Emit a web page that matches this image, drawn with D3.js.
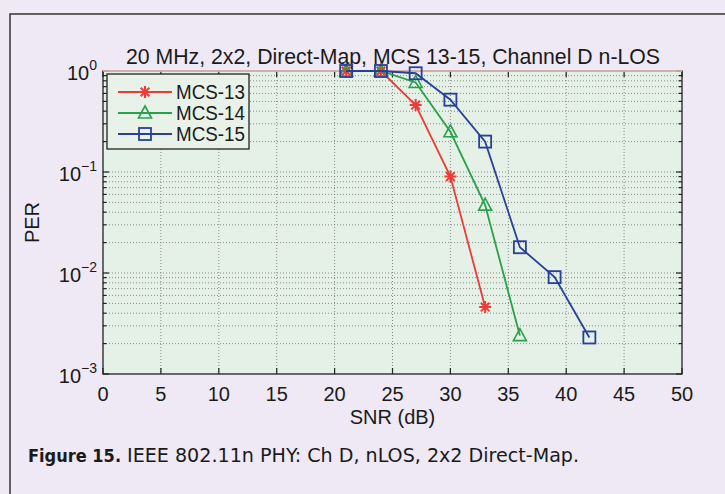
<!DOCTYPE html>
<html>
<head>
<meta charset="utf-8">
<script src="https://cdn.jsdelivr.net/npm/d3@7"></script>
<style>
  body { margin: 0; background: #eee9f4; }
  svg { display: block; }
  text { font-family: "Liberation Sans", Arial, sans-serif; fill: #1a1a1a; }
</style>
</head>
<body>
<svg id="chart"></svg>
<script>
// data
const snr13 = [21, 24, 27, 30, 33];
const per13 = [1, 1, 0.46, 0.09, 0.0046];
const snr14 = [21, 24, 27, 30, 33, 36];
const per14 = [1, 1, 0.77, 0.25, 0.047, 0.0024];
const snr15 = [21, 24, 27, 30, 33, 36, 39, 42];
const per15 = [1, 1, 0.95, 0.52, 0.2, 0.018, 0.0091, 0.0023];
const xTicks = [0, 5, 10, 15, 20, 25, 30, 35, 40, 45, 50];
const yTickExp = [0, -1, -2, -3];
const seriesNames = ["MCS-13", "MCS-14", "MCS-15"];

const W = 725, H = 494;
const plot = { left: 103, right: 682, top: 71, bottom: 374 };

const svg = d3.select('#chart').attr('width', W).attr('height', H);

// figure frame (left and top edges)
svg.append('path')
  .attr('d', `M10,${H} L10,14 L${W},14`)
  .attr('fill', 'none').attr('stroke', '#333').attr('stroke-width', 1.5);

const x = d3.scaleLinear().domain([0, 50]).range([plot.left, plot.right]);
const y = d3.scaleLog().domain([1e-3, 1]).range([plot.bottom, plot.top]);

svg.append('rect')
  .attr('x', plot.left).attr('y', plot.top)
  .attr('width', plot.right - plot.left).attr('height', plot.bottom - plot.top)
  .attr('fill', '#e5f0e6');

// grid
const minorY = [];
for (let e = -3; e < 0; e++) for (let m = 1; m < 10; m++) minorY.push(m * Math.pow(10, e));
minorY.push(1);

const grid = svg.append('g').attr('stroke', '#555').attr('stroke-width', 0.8)
  .attr('stroke-dasharray', '1,2').attr('opacity', 0.8);
grid.selectAll('.gy').data(minorY.filter(v => v > 1e-3 && v < 1)).enter().append('line')
  .attr('x1', plot.left).attr('x2', plot.right)
  .attr('y1', d => y(d)).attr('y2', d => y(d));
grid.selectAll('.gx').data(xTicks.slice(1, -1)).enter().append('line')
  .attr('y1', plot.top).attr('y2', plot.bottom)
  .attr('x1', d => x(d)).attr('x2', d => x(d));

// ticks
const ticks = svg.append('g').attr('stroke', '#222').attr('stroke-width', 1.2);
xTicks.forEach(v => {
  ticks.append('line').attr('x1', x(v)).attr('x2', x(v)).attr('y1', plot.bottom).attr('y2', plot.bottom - 6);
  ticks.append('line').attr('x1', x(v)).attr('x2', x(v)).attr('y1', plot.top).attr('y2', plot.top + 6);
});
minorY.forEach(v => {
  const major = Math.abs(Math.log10(v) - Math.round(Math.log10(v))) < 1e-9;
  const len = major ? 6 : 3.5;
  ticks.append('line').attr('x1', plot.left).attr('x2', plot.left + len).attr('y1', y(v)).attr('y2', y(v));
  ticks.append('line').attr('x1', plot.right).attr('x2', plot.right - len).attr('y1', y(v)).attr('y2', y(v));
});

// axes box
svg.append('rect')
  .attr('x', plot.left).attr('y', plot.top)
  .attr('width', plot.right - plot.left).attr('height', plot.bottom - plot.top)
  .attr('fill', 'none').attr('stroke', '#222').attr('stroke-width', 1.3);
svg.append('line')
  .attr('x1', plot.left).attr('x2', plot.right).attr('y1', plot.top).attr('y2', plot.top)
  .attr('stroke', '#f2c9c4').attr('stroke-width', 1.5);

// tick labels
svg.append('g').selectAll('text').data(xTicks).enter().append('text')
  .attr('x', d => x(d)).attr('y', plot.bottom + 27)
  .attr('text-anchor', 'middle').attr('font-size', 20)
  .text(d => d);

const yl = svg.append('g').selectAll('text').data(yTickExp).enter().append('text')
  .attr('x', plot.left - 6).attr('y', d => y(Math.pow(10, d)) + 9)
  .attr('text-anchor', 'end').attr('font-size', 20);
yl.append('tspan').text('10');
yl.append('tspan').attr('font-size', 14).attr('dy', -10)
  .text(d => d === 0 ? '0' : '\u2212' + (-d));

// axis titles
svg.append('text').attr('x', (plot.left + plot.right) / 2).attr('y', plot.bottom + 50)
  .attr('text-anchor', 'middle').attr('font-size', 20).text('SNR (dB)');
svg.append('text').attr('transform', `translate(39, ${(plot.top + plot.bottom) / 2}) rotate(-90)`)
  .attr('text-anchor', 'middle').attr('font-size', 20).text('PER');
svg.append('text').attr('x', 393).attr('y', 64)
  .attr('text-anchor', 'middle').attr('font-size', 22)
  .attr('textLength', 534).attr('lengthAdjust', 'spacingAndGlyphs')
  .text('20 MHz, 2x2, Direct-Map, MCS 13-15, Channel D n-LOS');

// series
const series = [
  { name: seriesNames[0], xs: snr13, ys: per13, color: '#ee3b37', marker: 'star' },
  { name: seriesNames[1], xs: snr14, ys: per14, color: '#27a24a', marker: 'tri' },
  { name: seriesNames[2], xs: snr15, ys: per15, color: '#27409a', marker: 'sq' }
];

function drawMarker(g, kind, cx, cy, color) {
  if (kind === 'star') {
    const r = 6, d = r * 0.72;
    g.append('path')
      .attr('d', `M${cx},${cy - r}V${cy + r}M${cx - r},${cy}H${cx + r}M${cx - d},${cy - d}L${cx + d},${cy + d}M${cx - d},${cy + d}L${cx + d},${cy - d}`)
      .attr('stroke', color).attr('stroke-width', 2).attr('fill', 'none');
  } else if (kind === 'tri') {
    g.append('path')
      .attr('d', `M${cx},${cy - 7}L${cx + 6.5},${cy + 5}L${cx - 6.5},${cy + 5}Z`)
      .attr('stroke', color).attr('stroke-width', 1.6).attr('fill', 'none');
  } else {
    g.append('rect').attr('x', cx - 6).attr('y', cy - 6).attr('width', 12).attr('height', 12)
      .attr('stroke', color).attr('stroke-width', 1.8).attr('fill', 'none');
  }
}

const line = d3.line().x(d => x(d[0])).y(d => y(d[1]));
series.forEach(s => {
  const pts = s.xs.map((v, i) => [v, s.ys[i]]);
  const g = svg.append('g');
  g.append('path').datum(pts).attr('d', line)
    .attr('fill', 'none').attr('stroke', s.color).attr('stroke-width', 1.8);
  pts.forEach(p => drawMarker(g, s.marker, x(p[0]), y(p[1]), s.color));
});

// legend
const lg = svg.append('g');
lg.append('rect').attr('x', 107).attr('y', 74).attr('width', 142).attr('height', 75)
  .attr('fill', '#e8f2e8').attr('stroke', '#222').attr('stroke-width', 1.3);
series.forEach((s, i) => {
  const ly = 92 + i * 21;
  lg.append('line').attr('x1', 118).attr('x2', 172).attr('y1', ly).attr('y2', ly)
    .attr('stroke', s.color).attr('stroke-width', 1.8);
  drawMarker(lg, s.marker, 145, ly, s.color);
  lg.append('text').attr('x', 176).attr('y', ly + 7).attr('font-size', 20)
    .attr('textLength', 69).attr('lengthAdjust', 'spacingAndGlyphs').text(s.name);
});

// caption
const cap = svg.append('text').attr('x', 28).attr('y', 462)
  .style('font-family', '"DejaVu Sans Condensed", "Open Sans", sans-serif');
cap.append('tspan').attr('font-weight', 'bold').attr('font-size', 18).text('Figure 15.');
cap.append('tspan').attr('font-size', 20).attr('dx', 6)
  .attr('textLength', 452).attr('lengthAdjust', 'spacingAndGlyphs')
  .text('IEEE 802.11n PHY: Ch D, nLOS, 2x2 Direct-Map.');
</script>
</body>
</html>
